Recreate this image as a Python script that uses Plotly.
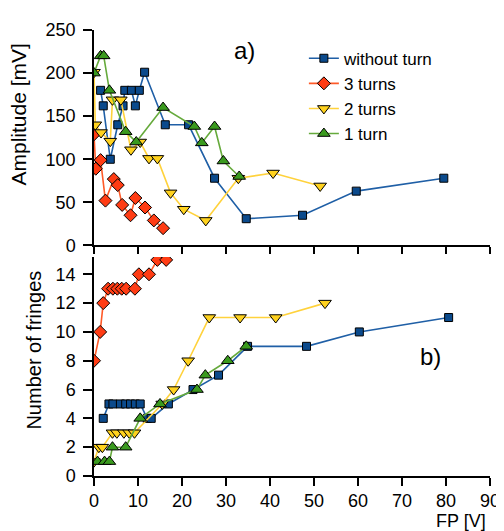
import plotly.graph_objects as go

# ---------------- data ----------------
# Top panel: amplitude [mV] vs FP [V]
amp_none_x = [1.5, 2.1, 3.7, 5.4, 6.6, 7.0, 8.5, 9.4, 10.3, 11.5, 16.2, 21.5, 27.4, 34.6, 47.4, 59.6, 79.5]
amp_none_y = [180, 162, 100, 140, 162, 180, 180, 162, 180, 201, 140, 140, 78, 31, 35, 63, 78]

amp_3_x = [0, 0.4, 1.5, 2.6, 4.5, 5.4, 6.4, 8.3, 9.4, 11.6, 13.6, 15.7]
amp_3_y = [129, 89, 99, 52, 77, 70, 47, 35, 55, 44, 29, 20]

amp_2_x = [0, 0.3, 1.6, 3.7, 4.2, 6.1, 8.4, 10.5, 12.5, 14.4, 17.4, 20.4, 25.4, 32.8, 40.7, 51.4]
amp_2_y = [201, 140, 131, 121, 169, 169, 111, 120, 101, 101, 61, 42, 29, 78, 84, 69]

amp_1_x = [0, 1.5, 2.2, 3.5, 7.2, 9.6, 15.7, 22.8, 24.5, 27.4, 29.4, 33.0]
amp_1_y = [200, 220, 220, 180, 132, 120, 160, 138, 119, 138, 98, 80]

# Bottom panel: number of fringes vs FP [V]
fr_none_x = [2.1, 3.4, 4.3, 6.0, 7.2, 8.3, 9.4, 10.5, 12.1, 13.0, 16.9, 22.5, 28.3, 34.9, 48.3, 60.3, 80.6]
fr_none_y = [4, 5, 5, 5, 5, 5, 5, 5, 4, 4, 5, 6, 7, 9, 9, 10, 11]

fr_3_x = [0, 1.4, 2.1, 3.2, 4.3, 5.3, 6.3, 7.3, 9.3, 10.2, 12.5, 14.4, 16.4]
fr_3_y = [8, 10, 12, 13, 13, 13, 13, 13, 13, 14, 14, 15, 15]

fr_2_x = [0, 1.1, 1.9, 4.2, 5.2, 6.8, 8.0, 9.2, 15.5, 18.1, 21.4, 26.2, 33.2, 41.3, 52.5]
fr_2_y = [1, 2, 2, 3, 3, 3, 3, 3, 5, 6, 8, 11, 11, 11, 12]

fr_1_x = [0.8, 2.4, 3.5, 4.2, 7.2, 10.5, 15.0, 23.4, 25.3, 30.4, 34.6]
fr_1_y = [1, 1, 1, 2, 2, 4, 5, 6, 7, 8, 9]

series_names = ["without turn", "3 turns", "2 turns", "1 turn"]
x_ticks = [0, 10, 20, 30, 40, 50, 60, 70, 80, 90]
amp_ticks = [0, 50, 100, 150, 200, 250]
fr_ticks = [0, 2, 4, 6, 8, 10, 12, 14]

# ---------------- styles ----------------
styles = {
    "without turn": dict(line="#1f5fa6", fill="#0b4a8c", symbol="square", size=8),
    "3 turns": dict(line="#ff5a28", fill="#ff3c14", symbol="diamond", size=10),
    "2 turns": dict(line="#ffd23c", fill="#ffd21e", symbol="triangle-down", size=11),
    "1 turn": dict(line="#66aa3c", fill="#3a9a1e", symbol="triangle-up", size=11),
}

top_data = {
    "without turn": (amp_none_x, amp_none_y),
    "3 turns": (amp_3_x, amp_3_y),
    "2 turns": (amp_2_x, amp_2_y),
    "1 turn": (amp_1_x, amp_1_y),
}
bot_data = {
    "without turn": (fr_none_x, fr_none_y),
    "3 turns": (fr_3_x, fr_3_y),
    "2 turns": (fr_2_x, fr_2_y),
    "1 turn": (fr_1_x, fr_1_y),
}

fig = go.Figure()
for name in series_names:
    s = styles[name]
    x, y = top_data[name]
    fig.add_trace(go.Scatter(
        x=x, y=y, name=name, mode="lines+markers", xaxis="x", yaxis="y",
        line=dict(color=s["line"], width=1.6),
        marker=dict(symbol=s["symbol"], size=s["size"], color=s["fill"],
                    line=dict(color="black", width=1)),
        showlegend=True,
    ))
for name in series_names:
    s = styles[name]
    x, y = bot_data[name]
    fig.add_trace(go.Scatter(
        x=x, y=y, name=name, mode="lines+markers", xaxis="x2", yaxis="y2",
        line=dict(color=s["line"], width=1.6),
        marker=dict(symbol=s["symbol"], size=s["size"], color=s["fill"],
                    line=dict(color="black", width=1)),
        showlegend=False,
    ))

FONT = "Liberation Sans, Arial, sans-serif"
axis_common = dict(showline=True, linecolor="black", linewidth=1.5, ticks="outside",
                   tickcolor="black", tickwidth=1.5, showgrid=False, zeroline=False,
                   tickfont=dict(family=FONT, size=18, color="black"))

# The page body has an 8px default margin, so margins compensate for it.
fig.update_layout(
    width=504, height=531,
    margin=dict(l=86, r=18, t=12, b=63),
    paper_bgcolor="white", plot_bgcolor="white",
    font=dict(family=FONT, color="black"),
    xaxis=dict(domain=[0, 1], range=[0, 90], tickvals=x_ticks, showticklabels=False,
               anchor="y", ticklen=7, **axis_common),
    yaxis=dict(domain=[0.517, 1.0], range=[0, 250], tickvals=amp_ticks, anchor="x",
               ticklen=9, ticklabelstandoff=4, **axis_common),
    xaxis2=dict(domain=[0, 1], range=[0, 90], tickvals=x_ticks, anchor="y2",
                ticklen=8, **axis_common),
    yaxis2=dict(domain=[0, 0.491], range=[0, 15.2], tickvals=fr_ticks, anchor="x2",
                ticklen=9, ticklabelstandoff=4, **axis_common),
    legend=dict(x=0.53, y=0.976, xanchor="left", yanchor="top",
                font=dict(family=FONT, size=17, color="black"),
                bgcolor="rgba(0,0,0,0)", itemwidth=30, tracegroupgap=0),
    showlegend=True,
    annotations=[
        dict(text="Amplitude [mV]", xref="paper", yref="paper", x=-0.19, y=0.81,
             textangle=-90, showarrow=False, xanchor="center", yanchor="middle",
             font=dict(family=FONT, size=21)),
        dict(text="Number of fringes", xref="paper", yref="paper", x=-0.152, y=0.283,
             textangle=-90, showarrow=False, xanchor="center", yanchor="middle",
             font=dict(family=FONT, size=20)),
        dict(text="FP [V]", xref="paper", yref="paper", x=0.995, y=-0.1,
             showarrow=False, xanchor="right", yanchor="middle",
             font=dict(family=FONT, size=18)),
        dict(text="a)", xref="paper", yref="paper", x=0.38, y=0.955,
             showarrow=False, xanchor="center", yanchor="middle",
             font=dict(family=FONT, size=24)),
        dict(text="b)", xref="paper", yref="paper", x=0.85, y=0.268,
             showarrow=False, xanchor="center", yanchor="middle",
             font=dict(family=FONT, size=24)),
    ],
)

fig.write_html("out.html")
